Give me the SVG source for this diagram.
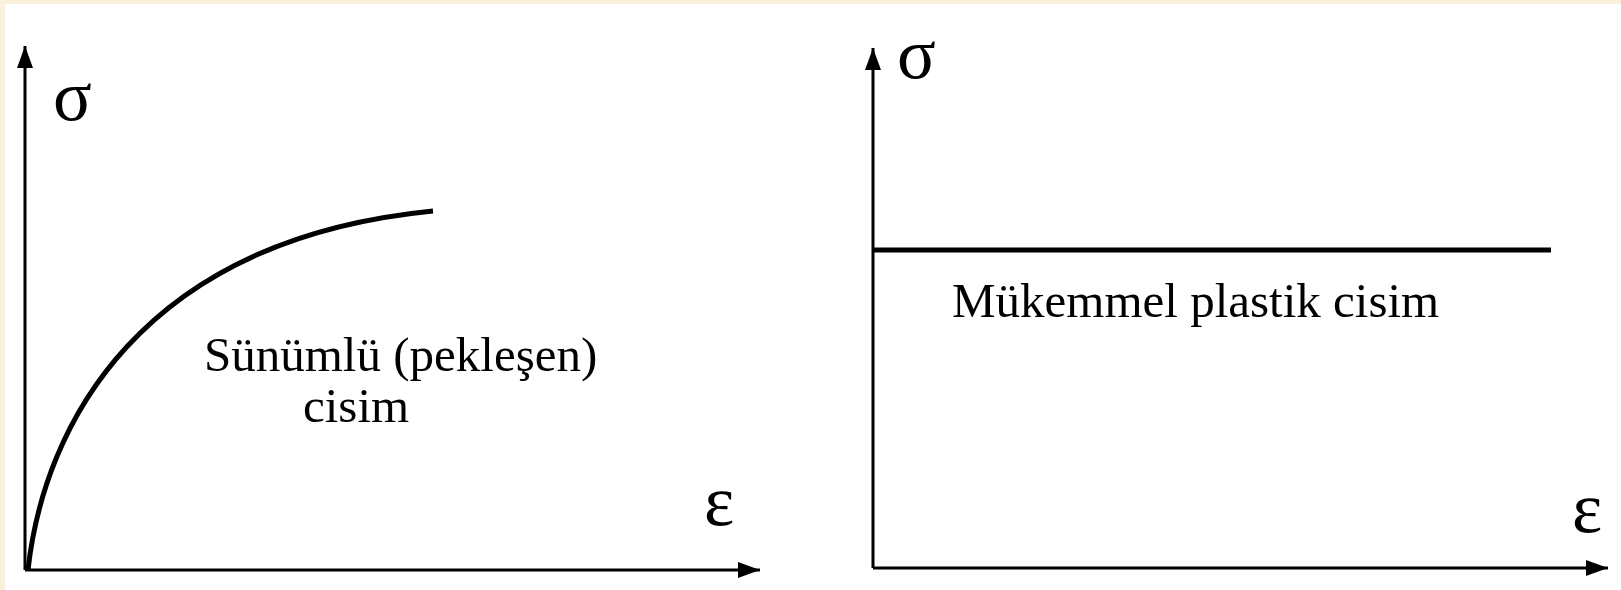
<svg xmlns="http://www.w3.org/2000/svg" width="1621" height="590" viewBox="0 0 1621 590">
<defs>
<style>
.ax{stroke:#000;stroke-width:3;fill:none}
.cv{stroke:#000;stroke-width:5;fill:none;stroke-linecap:butt}
.t{font-family:"Liberation Serif","Times New Roman",serif;fill:#000}
.lbl{font-size:49px}
.sym{font-size:72px}
</style>
<marker id="ah" viewBox="0 0 22 16" refX="22" refY="8" markerWidth="22" markerHeight="16" markerUnits="userSpaceOnUse" orient="auto">
<path d="M0,0 L22,8 L0,16 Z" fill="#000"/>
</marker>
</defs>
<rect x="0" y="0" width="1621" height="590" fill="#FAF0DC"/>
<rect x="5" y="4" width="1616" height="586" fill="#FFFFFF"/>
<g id="connectors">
<line class="ax" x1="25" y1="570" x2="25" y2="46" marker-end="url(#ah)"/>
<line class="ax" x1="25" y1="570" x2="760" y2="570" marker-end="url(#ah)"/>
<line class="ax" x1="873" y1="568" x2="873" y2="48" marker-end="url(#ah)"/>
<line class="ax" x1="873" y1="568" x2="1608" y2="568" marker-end="url(#ah)"/>
</g>
<g id="curve-left">
<path class="cv" d="M28,570 C44,425 140,240 433,211"/>
</g>
<g id="line-right">
<line class="cv" x1="873" y1="250" x2="1551" y2="250"/>
</g>
<g id="sigma-left"><text class="t sym" x="53" y="120">σ</text></g>
<g id="eps-left"><text class="t sym" x="704" y="525">ε</text></g>
<g id="sigma-right"><text class="t sym" x="897" y="78">σ</text></g>
<g id="eps-right"><text class="t sym" x="1572" y="532">ε</text></g>
<g id="label-left">
<text class="t lbl" x="204" y="371">Sünümlü (pekleşen)</text>
<text class="t lbl" x="303" y="422">cisim</text>
</g>
<g id="label-right">
<text class="t lbl" x="952" y="317">Mükemmel plastik cisim</text>
</g>
</svg>
